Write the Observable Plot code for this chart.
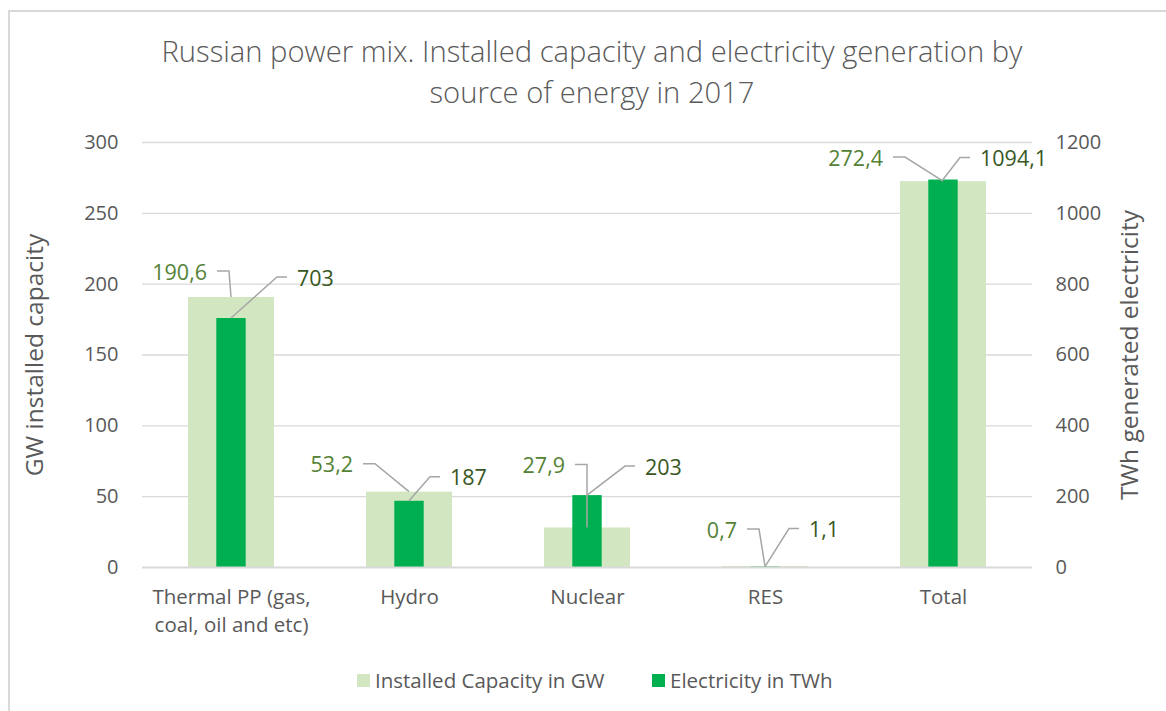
<!DOCTYPE html>
<html>
<head>
<meta charset="utf-8">
<script src="https://cdn.jsdelivr.net/npm/d3@7"></script>
<script src="https://cdn.jsdelivr.net/npm/@observablehq/plot@0.6"></script>
<style>
  body { margin: 0; background: #fff; font-family: "Open Sans", sans-serif; }
  #wrap { position: relative; width: 1166px; height: 711px; overflow: hidden; }
  #frame { position: absolute; left: 8px; top: 10px; width: 1180px; height: 730px; border: 2px solid #d9d9d9; box-sizing: border-box; }
  #title { position: absolute; left: 9px; top: 31px; width: 1166px; text-align: center; color: #595959; font-size: 29.2px; font-weight: 300; line-height: 41px; }
  #chart { position: absolute; left: 0; top: 110px; }
  .lg { position: absolute; top: 667px; display: flex; align-items: center; color: #595959; font-size: 20.5px; line-height: 26px; white-space: nowrap; }
  .sw { display: inline-block; width: 13px; height: 13px; margin-right: 5px; }
</style>
</head>
<body>
<div id="wrap">
  <div id="frame"></div>
  <div id="title">Russian power mix. Installed capacity and electricity generation by<br>source of energy in 2017</div>
  <div id="chart"></div>
  <div class="lg" style="left:357px"><span class="sw" style="background:#d2e6c2"></span><span>Installed Capacity in GW</span></div>
  <div class="lg" style="left:652px"><span class="sw" style="background:#00b050"></span><span>Electricity in TWh</span></div>
</div>
<script>
// ---- data ----
const categories = ["Thermal PP (gas,\ncoal, oil and etc)", "Hydro", "Nuclear", "RES", "Total"];
const capacityGW = [190.6, 53.2, 27.9, 0.7, 272.4];
const generationTWh = [703, 187, 203, 1.1, 1094.1];
const leftTicks = [0, 50, 100, 150, 200, 250, 300];
const rightTicks = [0, 200, 400, 600, 800, 1000, 1200];

// ---- layout (label placement, pixels relative to bar top) ----
const capLabelOffset = [[-24, -25], [-56, -27], [-22, -62], [-28, -36], [-60, -23]];
const genLabelOffset = [[66, -40], [41, -23], [58, -28], [44, -37], [37, -21]];

const ratio = rightTicks[rightTicks.length - 1] / leftTicks[leftTicks.length - 1];
const rows = categories.map((c, i) => ({category: c, capacity: capacityGW[i], gen: generationTWh[i], genScaled: generationTWh[i] / ratio}));
const fmt = v => String(v).replace(".", ",");

const capColor = "#d2e6c2", genColor = "#00b050", gridColor = "#d9d9d9";

const plot = Plot.plot({
  width: 1166, height: 555,
  marginLeft: 142, marginRight: 134, marginTop: 32, marginBottom: 98,
  style: {fontFamily: "Open Sans", fontSize: "20px", color: "#595959", background: "transparent", overflow: "visible"},
  x: {domain: categories, paddingInner: 0.515, paddingOuter: 0.2575, label: null},
  y: {domain: [0, 300], label: null},
  marks: [
    Plot.gridY(leftTicks.slice(1), {stroke: gridColor, strokeOpacity: 1, strokeWidth: 1.3}),
    Plot.barY(rows, {x: "category", y: "capacity", fill: capColor}),
    Plot.barY(rows, {x: "category", y: "genScaled", fill: genColor, insetLeft: 28.3, insetRight: 28.3}),
    Plot.ruleY([0], {stroke: gridColor, strokeWidth: 2}),
    Plot.axisY(leftTicks, {anchor: "left", tickSize: 0, tickPadding: 24, label: null, fill: "#595959", fontSize: 20}),
    Plot.axisY(rightTicks.map(t => t / ratio), {anchor: "right", tickSize: 0, tickPadding: 23, label: null, tickFormat: d => String(Math.round(d * ratio)), fill: "#595959", fontSize: 20}),
    Plot.axisX({tickSize: 0, tickPadding: 17, label: null, lineHeight: 1.366, fill: "#595959", fontSize: 20.5}),
    Plot.text(["GW installed capacity"], {frameAnchor: "left", dx: -107, rotate: -90, textAnchor: "middle", fontSize: 24.5, fill: "#595959"}),
    Plot.text(["TWh generated electricity"], {frameAnchor: "right", dx: 98, rotate: -90, textAnchor: "middle", fontSize: 24.5, fill: "#595959"})
  ]
});
document.getElementById("chart").appendChild(plot);

// ---- data labels with leader lines, positioned through the plot's scales ----
const xs = plot.scale("x"), ys = plot.scale("y");
const cx = c => xs.apply(c) + xs.bandwidth / 2;
const g = d3.select(plot).append("g");
const line = d3.line();
rows.forEach((r, i) => {
  const ax = cx(r.category);
  // capacity label
  const ayC = ys.apply(r.capacity);
  const lxC = ax + capLabelOffset[i][0], lyC = ayC + capLabelOffset[i][1];
  g.append("path").attr("d", line([[lxC + 10, lyC - 1], [lxC + 22, lyC - 1], [ax, ayC]]))
    .attr("fill", "none").attr("stroke", "#a6a6a6").attr("stroke-width", 1.5);
  g.append("text").attr("x", lxC).attr("y", lyC).attr("dy", "0.35em").attr("text-anchor", "end")
    .attr("font-size", 21.5).attr("fill", "#548235").text(fmt(r.capacity));
  // generation label
  const ayG = ys.apply(r.genScaled);
  const lxG = ax + genLabelOffset[i][0], lyG = ayG + genLabelOffset[i][1];
  g.append("path").attr("d", line([[lxG - 10, lyG - 1], [lxG - 20, lyG - 1], [ax, ayG]]))
    .attr("fill", "none").attr("stroke", "#a6a6a6").attr("stroke-width", 1.5);
  g.append("text").attr("x", lxG).attr("y", lyG).attr("dy", "0.35em").attr("text-anchor", "start")
    .attr("font-size", 21.5).attr("fill", "#385723").text(fmt(r.gen));
});
</script>
</body>
</html>
